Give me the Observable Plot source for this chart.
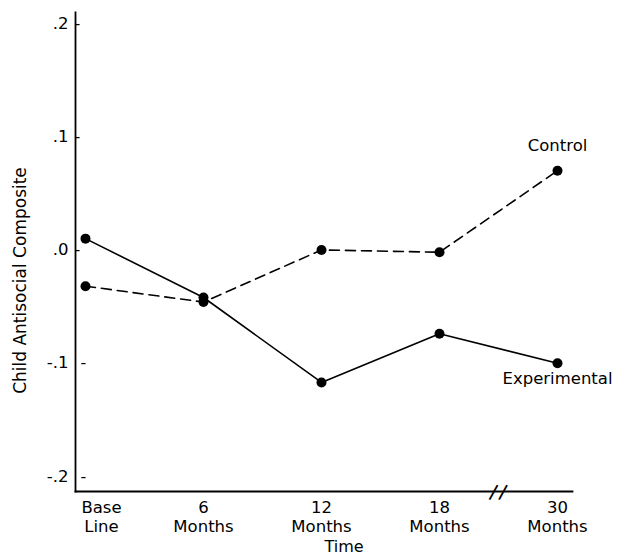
<!DOCTYPE html>
<html><head><meta charset="utf-8">
<script src="https://cdn.jsdelivr.net/npm/d3@7"></script>
<script src="https://cdn.jsdelivr.net/npm/@observablehq/plot@0.6"></script>
<style>html,body{margin:0;padding:0;background:#fff} svg{display:block}</style>
</head><body><div id="chart"></div>
<script>
const timepoints = ["Base Line", "6 Months", "12 Months", "18 Months", "30 Months"];
const experimental = [0.010, -0.042, -0.117, -0.074, -0.100];
const control = [-0.032, -0.046, 0.000, -0.002, 0.070];
const yTicks = [-0.2, -0.1, 0, 0.1, 0.2];
const yTickLabels = ["-.2", "-.1", ".0", ".1", ".2"];
const xTickLabels = ["Base\nLine", "6\nMonths", "12\nMonths", "18\nMonths", "30\nMonths"];
const yTitle = "Child Antisocial Composite";
const xTitle = "Time";

const rows = timepoints.flatMap((t, i) => [
  {time: t, group: "Experimental", value: experimental[i]},
  {time: t, group: "Control", value: control[i]}
]);
const expRows = rows.filter(d => d.group === "Experimental");
const ctlRows = rows.filter(d => d.group === "Control");
const last = timepoints[timepoints.length - 1];
const xFmt = d => xTickLabels[timepoints.indexOf(d)];
const yFmt = d => yTickLabels[yTicks.indexOf(d)];

const chart = Plot.plot({
  width: 617,
  height: 556,
  marginLeft: 75,
  marginRight: 45,
  marginTop: 12,
  marginBottom: 65,
  style: {fontFamily: "'DejaVu Sans', sans-serif", fontSize: "16px", color: "#000", background: "#fff"},
  x: {type: "point", domain: timepoints, padding: 0, insetLeft: 9, insetRight: 14, axis: null},
  y: {domain: [-0.2133, 0.2097], axis: null},
  marks: [
    Plot.frame({anchor: "left", strokeWidth: 1.8}),
    Plot.frame({anchor: "bottom", strokeWidth: 1.8}),
    Plot.axisY(yTicks, {tickSize: 0, tickPadding: 7, tickFormat: yFmt, label: null, fontSize: 16.5}),
    Plot.text(yTicks.filter(d => d >= 0), {y: d => d, text: () => "-", frameAnchor: "left", textAnchor: "middle", lineAnchor: "middle", dx: 2, fontSize: 16}),
    Plot.text(yTicks.filter(d => d < 0), {y: d => d, text: () => "-", frameAnchor: "left", textAnchor: "middle", lineAnchor: "middle", dx: 8, fontSize: 16}),
    Plot.axisX(timepoints.slice(0, 1), {tickSize: 0, tickPadding: 8, dx: 16, tickFormat: xFmt, label: null, lineHeight: 1.15, fontSize: 16.5}),
    Plot.axisX(timepoints.slice(1), {tickSize: 0, tickPadding: 8, tickFormat: xFmt, label: null, lineHeight: 1.15, fontSize: 16.5}),
    Plot.text(["|"], {x: () => last, frameAnchor: "bottom", textAnchor: "middle", lineAnchor: "middle", rotate: 29, dx: -63.5, fontSize: 16.5, fontWeight: "bold"}),
    Plot.text(["|"], {x: () => last, frameAnchor: "bottom", textAnchor: "middle", lineAnchor: "middle", rotate: 29, dx: -54, fontSize: 16.5, fontWeight: "bold"}),
    Plot.line(expRows, {x: "time", y: "value", stroke: "#000", strokeWidth: 1.6}),
    Plot.line(ctlRows, {x: "time", y: "value", stroke: "#000", strokeWidth: 1.6, strokeDasharray: "10,6"}),
    Plot.dot(rows, {x: "time", y: "value", r: 5, fill: "#000"}),
    Plot.text(ctlRows.slice(-1), {x: "time", y: "value", text: "group", dy: -25, textAnchor: "middle", lineAnchor: "middle", fontSize: 16.5}),
    Plot.text(expRows.slice(-1), {x: "time", y: "value", text: "group", dy: 16, textAnchor: "middle", lineAnchor: "middle", fontSize: 16.5}),
    Plot.text([yTitle], {frameAnchor: "left", rotate: -90, dx: -55, dy: 28.5, textAnchor: "middle", lineAnchor: "middle", fontSize: 17}),
    Plot.text([xTitle], {frameAnchor: "bottom", dx: 20, dy: 55, textAnchor: "middle", lineAnchor: "middle", fontSize: 16})
  ]
});
document.getElementById("chart").append(chart);
</script>
</body></html>
